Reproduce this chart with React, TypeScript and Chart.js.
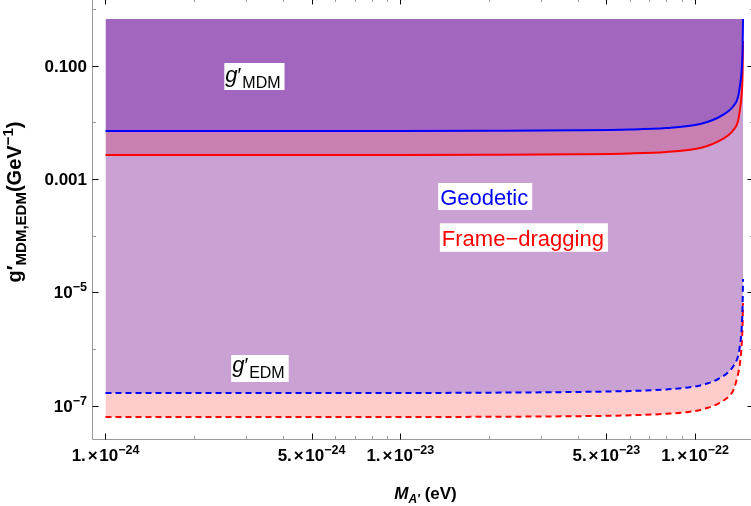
import { useEffect, useRef } from "react";
import { Chart, registerables } from "chart.js";

Chart.register(...registerables);

// ---- data ----
const massX = [1e-24, 2e-24, 5e-24, 1e-23, 2e-23, 4e-23, 6e-23, 8e-23, 1e-22, 1.1e-22, 1.2e-22, 1.3e-22, 1.35e-22, 1.4e-22, 1.42e-22, 1.44e-22, 1.45e-22, 1.455e-22];
const geodeticMDM = [7.05e-3, 7.05e-3, 7.05e-3, 7.05e-3, 7.11e-3, 7.25e-3, 7.49e-3, 7.96e-3, 8.99e-3, 1.016e-2, 1.22e-2, 1.588e-2, 1.946e-2, 2.81e-2, 4.39e-2, 8.4e-2, 0.189, 0.667];
const frameMDM = [2.66e-3, 2.66e-3, 2.66e-3, 2.66e-3, 2.683e-3, 2.74e-3, 2.83e-3, 3.01e-3, 3.4e-3, 3.84e-3, 4.61e-3, 6.0e-3, 7.35e-3, 1.059e-2, 1.656e-2, 3.17e-2, 7.14e-2, 0.273];
const geodeticEDM = [1.69e-7, 1.69e-7, 1.69e-7, 1.69e-7, 1.71e-7, 1.76e-7, 1.83e-7, 1.95e-7, 2.2e-7, 2.48e-7, 2.98e-7, 3.96e-7, 5.05e-7, 7.58e-7, 1.14e-6, 2.36e-6, 5.77e-6, 1.73e-5];
const frameEDM = [6.37e-8, 6.37e-8, 6.37e-8, 6.37e-8, 6.42e-8, 6.58e-8, 6.82e-8, 7.26e-8, 8.13e-8, 9.18e-8, 1.1e-7, 1.46e-7, 1.91e-7, 3.65e-7, 5.48e-7, 1.19e-6, 2.67e-6, 6.53e-6];
const fillTop = 0.667;

const xMajorTicks = [1e-24, 5e-24, 1e-23, 5e-23, 1e-22];
const xMajorBase = ["1.", "5.", "1.", "5.", "1."];
const xMajorExp = ["\u221224", "\u221224", "\u221223", "\u221223", "\u221222"];
const xMinorTicks = [2e-24, 3e-24, 4e-24, 6e-24, 7e-24, 8e-24, 9e-24, 2e-23, 3e-23, 4e-23, 6e-23, 7e-23, 8e-23, 9e-23];
const yMajorTicks = [0.1, 0.001, 1e-5, 1e-7];
const yMajorBase = ["0.100", "0.001", "10", "10"];
const yMajorExp = ["", "", "\u22125", "\u22127"];
const yMinorTicks = [1, 0.01, 1e-4, 1e-6];

const X_MIN = 9.035e-25;
const X_MAX = 1.573e-22;
const Y_MIN = 2.606e-8;
const Y_MAX = 1.563;

// annotation anchors (data coords: text start x, baseline y)
const labelMDM = { x: 2.55e-24, y: 0.0526 };
const labelEDM = { x: 2.69e-24, y: 3.96e-7 };
const labelGeo = { x: 1.366e-23, y: 3.56e-4 };
const labelFrame = { x: 1.384e-23, y: 6.67e-5 };

const COL_TOP = "#a366bf";
const COL_MID = "#c880b3";
const COL_LAV = "#c9a1d3";
const COL_PINK = "#ffcccc";

const FAMILY = '"Liberation Sans", Arial, sans-serif';

type Seg = { t: string; size: number; bold?: boolean; italic?: boolean; dy?: number; gap?: number; color?: string };

function fontOf(s: Seg) {
  return `${s.italic ? "italic " : ""}${s.bold ? "bold " : ""}${s.size}px ${FAMILY}`;
}
function measureRich(ctx: CanvasRenderingContext2D, segs: Seg[]) {
  let w = 0;
  for (const s of segs) {
    ctx.font = fontOf(s);
    w += ctx.measureText(s.t).width + (s.gap || 0);
  }
  return w;
}
function drawRich(ctx: CanvasRenderingContext2D, segs: Seg[], x: number, y: number, align: "left" | "center" | "right") {
  const w = measureRich(ctx, segs);
  let cx = align === "left" ? x : align === "center" ? x - w / 2 : x - w;
  ctx.textBaseline = "alphabetic";
  ctx.textAlign = "left";
  for (const s of segs) {
    ctx.font = fontOf(s);
    ctx.fillStyle = s.color || "#000";
    ctx.fillText(s.t, cx, y + (s.dy || 0));
    cx += ctx.measureText(s.t).width + (s.gap || 0);
  }
  return w;
}

const framePlugin = {
  id: "framePlugin",
  afterDraw(chart: any) {
    const ctx: CanvasRenderingContext2D = chart.ctx;
    const { left, right, top, bottom } = chart.chartArea;
    const xs = chart.scales.x;
    const ys = chart.scales.y;
    ctx.save();

    // annotations
    const box = (segs: Seg[], anchor: { x: number; y: number }, up: number, down: number, padL: number, padR: number) => {
      const px = xs.getPixelForValue(anchor.x);
      const py = ys.getPixelForValue(anchor.y);
      const w = measureRich(ctx, segs);
      ctx.fillStyle = "#fff";
      ctx.fillRect(px - padL, py - up, w + padL + padR, up + down);
      drawRich(ctx, segs, px, py, "left");
    };
    box(
      [
        { t: "g", size: 22, italic: true },
        { t: "\u2032", size: 20, gap: 1 },
        { t: "MDM", size: 16, dy: 6.5 },
      ],
      labelMDM, 18.5, 8.5, 1, 4
    );
    box(
      [
        { t: "g", size: 22, italic: true },
        { t: "\u2032", size: 20, gap: 1 },
        { t: "EDM", size: 16, dy: 6.5 },
      ],
      labelEDM, 17, 10, 1, 4
    );
    box([{ t: "Geodetic", size: 22, color: "#0000ff" }], labelGeo, 21.5, 5.5, 2, 4);
    box([{ t: "Frame\u2212dragging", size: 22, color: "#ff0000" }], labelFrame, 22.5, 6, 2, 4);

    // frame
    ctx.strokeStyle = "#999";
    ctx.lineWidth = 1;
    const L = Math.round(left) + 0.5;
    const R = Math.round(right) + 0.5;
    const T = Math.round(top) + 0.5;
    const B = Math.round(bottom) + 0.5;
    ctx.beginPath();
    ctx.moveTo(L, T);
    ctx.lineTo(L, B);
    ctx.lineTo(R, B);
    ctx.lineTo(R, T);
    ctx.lineTo(L, T);
    ctx.stroke();

    // ticks
    const tick = (x1: number, y1: number, x2: number, y2: number, color: string) => {
      ctx.strokeStyle = color;
      ctx.beginPath();
      ctx.moveTo(x1, y1);
      ctx.lineTo(x2, y2);
      ctx.stroke();
    };
    for (const v of xMajorTicks) {
      const p = Math.round(xs.getPixelForValue(v)) + 0.5;
      tick(p, B, p, B - 6, "#000");
      tick(p, T, p, T + 6, "#000");
    }
    for (const v of xMinorTicks) {
      const p = Math.round(xs.getPixelForValue(v)) + 0.5;
      tick(p, B, p, B - 3.5, "#999");
      tick(p, T, p, T + 3.5, "#999");
    }
    for (const v of yMajorTicks) {
      const p = Math.round(ys.getPixelForValue(v)) + 0.5;
      tick(L, p, L + 6, p, "#000");
      tick(R, p, R - 6, p, "#000");
    }
    for (const v of yMinorTicks) {
      const p = Math.round(ys.getPixelForValue(v)) + 0.5;
      tick(L, p, L + 3.5, p, "#999");
      tick(R, p, R - 3.5, p, "#999");
    }

    // tick labels
    xMajorTicks.forEach((v, i) => {
      const p = xs.getPixelForValue(v);
      drawRich(
        ctx,
        [
          { t: xMajorBase[i], size: 17, bold: true, gap: 2 },
          { t: "\u00d7", size: 17, bold: true, gap: 1.5 },
          { t: "10", size: 17, bold: true },
          { t: xMajorExp[i], size: 12.5, bold: true, dy: -7 },
        ],
        p, bottom + 22, "center"
      );
    });
    yMajorTicks.forEach((v, i) => {
      const p = ys.getPixelForValue(v);
      const segs: Seg[] = [{ t: yMajorBase[i], size: 17, bold: true }];
      if (yMajorExp[i]) segs.push({ t: yMajorExp[i], size: 12.5, bold: true, dy: -7 });
      drawRich(ctx, segs, left - 5, p + 6, "right");
    });

    // axis titles
    drawRich(
      ctx,
      [
        { t: "M", size: 17, bold: true, italic: true },
        { t: "A\u2032", size: 12, bold: true, italic: true, dy: 4 },
        { t: " (eV)", size: 17, bold: true },
      ],
      (left + right) / 2 + 3, bottom + 60, "center"
    );
    ctx.save();
    ctx.translate(21, top + 204);
    ctx.rotate(-Math.PI / 2);
    drawRich(
      ctx,
      [
        { t: "g\u2032", size: 20, bold: true },
        { t: "MDM,EDM", size: 15, bold: true, dy: 5 },
        { t: "(GeV", size: 20, bold: true },
        { t: "\u22121", size: 15, bold: true, dy: -8 },
        { t: ")", size: 20, bold: true },
      ],
      0, 0, "center"
    );
    ctx.restore();

    ctx.restore();
  },
};

export default function App() {
  const ref = useRef<HTMLCanvasElement>(null);
  useEffect(() => {
    if (!ref.current) return;
    const pts = (ys: number[]) => massX.map((x, i) => ({ x, y: ys[i] }));
    const common = { pointRadius: 0, cubicInterpolationMode: "monotone" as const, borderWidth: 2 };
    const chart = new Chart(ref.current, {
      type: "line",
      data: {
        datasets: [
          {
            label: "top",
            data: [
              { x: massX[0], y: fillTop },
              { x: massX[massX.length - 1], y: fillTop },
            ],
            pointRadius: 0,
            borderWidth: 0,
            borderColor: "rgba(0,0,0,0)",
            fill: false,
          },
          { label: "Geodetic MDM", data: pts(geodeticMDM), ...common, borderColor: "#0000ff", backgroundColor: COL_TOP, fill: { target: 0 } },
          { label: "Frame-dragging MDM", data: pts(frameMDM), ...common, borderColor: "#ff0000", backgroundColor: COL_MID, fill: { target: 1 } },
          { label: "Geodetic EDM", data: pts(geodeticEDM), ...common, borderColor: "#0000ff", borderDash: [6, 4], backgroundColor: COL_LAV, fill: { target: 2 } },
          { label: "Frame-dragging EDM", data: pts(frameEDM), ...common, borderColor: "#ff0000", borderDash: [6, 4], backgroundColor: COL_PINK, fill: { target: 3 } },
        ],
      },
      options: {
        responsive: false,
        animation: false,
        devicePixelRatio: 1,
        layout: { padding: { left: 0, right: 5, top: 2, bottom: 0 } },
        scales: {
          x: {
            type: "logarithmic",
            min: X_MIN,
            max: X_MAX,
            ticks: { display: false },
            grid: { display: false },
            border: { display: false },
            afterFit: (s: any) => { s.height = 71; },
          },
          y: {
            type: "logarithmic",
            min: Y_MIN,
            max: Y_MAX,
            ticks: { display: false },
            grid: { display: false },
            border: { display: false },
            afterFit: (s: any) => { s.width = 92; },
          },
        },
        plugins: {
          legend: { display: false },
          tooltip: { enabled: false },
          filler: { drawTime: "beforeDatasetsDraw" },
        } as any,
      },
      plugins: [framePlugin],
    });
    return () => chart.destroy();
  }, []);
  return (
    <div style={{ position: "fixed", left: 0, top: 0, width: 751, height: 506, overflow: "hidden", background: "#fff" }}>
      <canvas ref={ref} width={758} height={514} style={{ position: "absolute", left: 0, top: -4, width: 758, height: 514 }} />
    </div>
  );
}
